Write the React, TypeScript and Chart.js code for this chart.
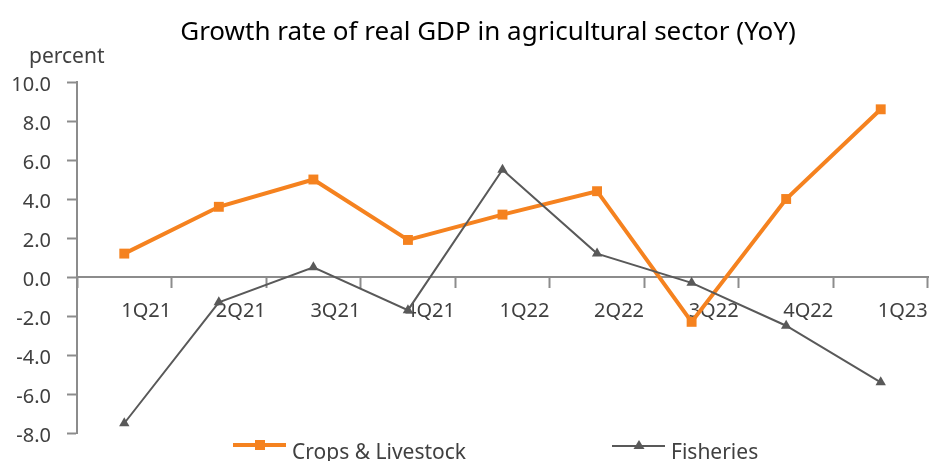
import React, { useEffect, useRef } from 'react';
import { Chart, registerables } from 'chart.js';

Chart.register(...registerables);

const categories = ['1Q21', '2Q21', '3Q21', '4Q21', '1Q22', '2Q22', '3Q22', '4Q22', '1Q23'];
const cropsLivestock = [1.2, 3.6, 5.0, 1.9, 3.2, 4.4, -2.3, 4.0, 8.6];
const fisheries = [-7.5, -1.3, 0.5, -1.7, 5.5, 1.2, -0.3, -2.5, -5.4];
const yMin = -8;
const yMax = 10;
const yStep = 2;
const titleText = 'Growth rate of real GDP in agricultural sector (YoY)';
const yUnitText = 'percent';
const seriesNames = ['Crops & Livestock', 'Fisheries'];

const FONT = "'Noto Sans', sans-serif";
const ORANGE = '#F5821F';
const GRAY = '#595959';
const AXIS = '#8C8C8C';

const overlayPlugin = {
  id: 'overlay',
  afterDraw(chart: any) {
    const ctx = chart.ctx;
    ctx.save();
    // title
    ctx.fillStyle = '#000000';
    ctx.font = `26px ${FONT}`;
    ctx.textAlign = 'center';
    ctx.textBaseline = 'alphabetic';
    ctx.fillText(titleText, 488, 40);
    // unit label
    ctx.fillStyle = '#404040';
    ctx.font = `21px ${FONT}`;
    ctx.textAlign = 'left';
    ctx.fillText(yUnitText, 29, 63);
    // legend
    const items = [
      { x: 233, color: ORANGE, lw: 4, style: 'rect', y: 445 },
      { x: 612, color: GRAY, lw: 2, style: 'triangle', y: 446 },
    ];
    items.forEach((it, i) => {
      ctx.strokeStyle = it.color;
      ctx.lineWidth = it.lw;
      ctx.beginPath();
      ctx.moveTo(it.x, it.y);
      ctx.lineTo(it.x + 53, it.y);
      ctx.stroke();
      ctx.fillStyle = it.color;
      const cx = it.x + 27;
      if (it.style === 'rect') {
        ctx.fillRect(cx - 5, it.y - 5, 10, 10);
      } else {
        ctx.beginPath();
        ctx.moveTo(cx, it.y - 6);
        ctx.lineTo(cx + 5.5, it.y + 3);
        ctx.lineTo(cx - 5.5, it.y + 3);
        ctx.closePath();
        ctx.fill();
      }
      ctx.fillStyle = '#404040';
      ctx.font = `21px ${FONT}`;
      ctx.textAlign = 'left';
      ctx.fillText(seriesNames[i], it.x + 59, 459);
    });
    ctx.restore();
  },
};

export default function App() {
  const ref = useRef<HTMLCanvasElement | null>(null);
  useEffect(() => {
    if (!ref.current) return;
    const chart = new Chart(ref.current, {
      type: 'line',
      data: {
        labels: categories,
        datasets: [
          {
            label: seriesNames[0],
            data: cropsLivestock,
            borderColor: ORANGE,
            backgroundColor: ORANGE,
            borderWidth: 4,
            pointStyle: 'rect',
            pointRadius: 7,
            pointBorderWidth: 0,
            tension: 0,
            order: 2,
          },
          {
            label: seriesNames[1],
            data: fisheries,
            borderColor: GRAY,
            backgroundColor: GRAY,
            borderWidth: 2,
            pointStyle: 'triangle',
            pointRadius: 6,
            pointBorderWidth: 0,
            tension: 0,
            order: 1,
          },
        ],
      },
      options: {
        animation: false,
        responsive: false,
        maintainAspectRatio: false,
        layout: { padding: { top: 82, bottom: 26, left: 0, right: 3 } },
        plugins: {
          legend: { display: false },
          title: { display: false },
          tooltip: { enabled: false },
        },
        scales: {
          x: {
            type: 'category',
            offset: true,
            position: { y: 0 } as any,
            afterFit(scale: any) {
              scale.height = 0;
            },
            grid: {
              offset: true,
              drawOnChartArea: false,
              drawTicks: true,
              tickLength: 10,
              tickWidth: 2,
              tickColor: AXIS,
            },
            border: { display: true, color: AXIS, width: 2 },
            ticks: {
              color: '#404040',
              font: { family: FONT, size: 20 },
              padding: 12,
              labelOffset: 22,
              maxRotation: 0,
              autoSkip: false,
            },
          },
          y: {
            min: yMin,
            max: yMax,
            afterFit(scale: any) {
              scale.width = 77;
            },
            grid: {
              drawOnChartArea: false,
              drawTicks: true,
              tickLength: 10,
              tickWidth: 2,
              tickColor: AXIS,
            },
            border: { display: true, color: AXIS, width: 2 },
            ticks: {
              stepSize: yStep,
              color: '#404040',
              font: { family: FONT, size: 20 },
              padding: 16,
              labelOffset: 3,
              callback: (v: any) => Number(v).toFixed(1),
            },
          },
        },
      },
      plugins: [overlayPlugin],
    });
    return () => chart.destroy();
  }, []);
  return (
    <div style={{ position: 'absolute', left: 0, top: 0, width: 935, height: 461, background: '#fff' }}>
      <canvas ref={ref} width={935} height={461} style={{ width: 935, height: 461 }} />
    </div>
  );
}
